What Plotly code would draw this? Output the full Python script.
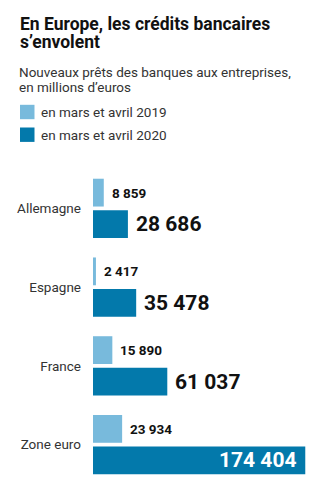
import plotly.graph_objects as go

categories = ["Allemagne", "Espagne", "France", "Zone euro"]
values_2019 = [8859, 2417, 15890, 23934]
values_2020 = [28686, 35478, 61037, 174404]
series_names = ["en mars et avril 2019", "en mars et avril 2020"]

title_lines = ["En Europe, les crédits bancaires", "s\u2019envolent"]
subtitle_lines = ["Nouveaux prêts des banques aux entreprises,", "en millions d\u2019euros"]

LIGHT = "#78badc"
DARK = "#0379ab"
FONT = "Roboto"

W, H = 335, 499
ML, MR, MT, MB = 93, 29, 169, 15
PW = W - ML - MR
PH = H - MT - MB


def px(x):
    return (x - ML) / PW


def py(y):
    return 1 - (y - MT) / PH


def fmt(v):
    return f"{v:,}".replace(",", " ")


fig = go.Figure()
fig.add_trace(go.Bar(y=categories, x=values_2019, orientation="h", name=series_names[0],
                     marker=dict(color=LIGHT, line=dict(width=0)), hoverinfo="skip"))
fig.add_trace(go.Bar(y=categories, x=values_2020, orientation="h", name=series_names[1],
                     marker=dict(color=DARK, line=dict(width=0)), hoverinfo="skip"))

annotations = []
vmax = max(values_2020)
SLOT = 15.75
for cat, v in zip(categories, values_2019):
    annotations.append(dict(x=v, y=cat, xref="x", yref="y", text=fmt(v), showarrow=False,
                            xanchor="left", xshift=6, yshift=SLOT,
                            font=dict(family=FONT, size=13.5, color="#111", weight="bold")))
for cat, v in zip(categories, values_2020):
    inside = v > 0.6 * vmax
    annotations.append(dict(x=v, y=cat, xref="x", yref="y", text=fmt(v), showarrow=False,
                            xanchor="right" if inside else "left",
                            xshift=-6 if inside else 6, yshift=-SLOT,
                            font=dict(family=FONT, size=21,
                                      color="white" if inside else "#111", weight="bold")))

# title & subtitle
for i, (line, yc) in enumerate(zip(title_lines, [23.6, 41.6])):
    annotations.append(dict(x=px(18), y=py(yc), xref="paper", yref="paper", text=line,
                            showarrow=False, xanchor="left", yanchor="middle",
                            font=dict(family=FONT, size=17.5, color="#111", weight="bold")))
for line, yc in zip(subtitle_lines, [71.5, 86.5]):
    annotations.append(dict(x=px(17), y=py(yc), xref="paper", yref="paper", text=line,
                            showarrow=False, xanchor="left", yanchor="middle",
                            font=dict(family=FONT, size=13.5, color="#333")))

shapes = []
for name, col, yc in zip(series_names, [LIGHT, DARK], [112, 134.7]):
    shapes.append(dict(type="rect", xref="paper", yref="paper",
                       x0=px(20), x1=px(34.5), y0=py(yc - 7.2), y1=py(yc + 7.2),
                       fillcolor=col, line=dict(width=0)))
    annotations.append(dict(x=px(39), y=py(yc), xref="paper", yref="paper", text=name,
                            showarrow=False, xanchor="left", yanchor="middle",
                            font=dict(family=FONT, size=13.5, color="#333")))

fig.update_layout(
    width=W, height=H,
    margin=dict(l=ML, r=MR, t=MT, b=MB),
    paper_bgcolor="white", plot_bgcolor="white",
    barmode="group", bargap=0.2, bargroupgap=0.117,
    showlegend=False,
    font=dict(family=FONT, color="#333"),
    xaxis=dict(range=[0, 175000], visible=False, fixedrange=True),
    yaxis=dict(autorange="reversed", showgrid=False, zeroline=False, showline=False,
               ticks="", ticklabelstandoff=11,
               tickfont=dict(family=FONT, size=13.5, color="#333"), fixedrange=True),
    annotations=annotations,
    shapes=shapes,
)

fig.write_html("out.html", config={"displayModeBar": False})
